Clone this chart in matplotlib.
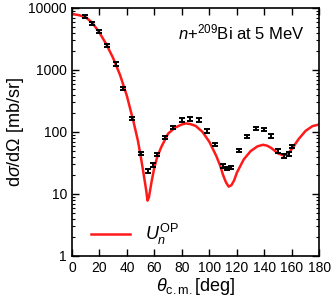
import matplotlib
matplotlib.use('Agg')
from matplotlib import pyplot as plt
from matplotlib.ticker import LogLocator, NullFormatter, FixedLocator

plt.rcParams['font.family'] = ['Liberation Sans', 'DejaVu Sans']
plt.rcParams['mathtext.fontset'] = 'custom'
plt.rcParams['mathtext.rm'] = 'Liberation Sans'
plt.rcParams['mathtext.it'] = 'Liberation Sans:italic'

exp_theta = [9.2, 14.5, 19.4, 25.4, 31.7, 37.5, 43.6, 49.9, 55.7, 58.9,
             62.0, 67.8, 73.6, 79.9, 86.0, 92.1, 98.1, 104.2, 109.7, 112.9,
             115.8, 121.6, 127.7, 133.7, 140.0, 145.1, 149.7, 154.1, 157.7, 160.1]
exp_xs = [7240, 5660, 4200, 2470, 1250, 506, 164, 45, 23.5, 29.4,
          43.6, 81, 119, 156, 162, 156, 104, 62, 28.3, 26,
          26.5, 50.6, 84, 113, 109, 86, 49.4, 41, 44, 58]
exp_err = [v * 0.06 for v in exp_xs]

# optical potential curve
op_theta = [0, 5, 10, 15, 20, 25, 30, 35, 40, 45, 48, 50, 52, 54, 55, 56, 58, 60,
            62, 65, 70, 75, 80, 83, 86, 90, 95, 100, 105, 108, 110, 112, 114, 116,
            118, 120, 125, 130, 135, 139, 142, 145, 150, 154, 157, 160, 165, 170,
            175, 180]
op_xs = [8000, 7650, 7100, 5700, 4000, 2600, 1550, 830, 380, 140, 72, 41, 22, 11.5,
         7.8, 8.8, 16, 27, 39, 57, 94, 117, 132, 137, 134, 125, 100, 69, 41, 28,
         20, 15.5, 13.1, 13.8, 16.5, 22, 36, 49, 58.5, 62, 60, 55, 45, 41.5, 44,
         53, 77, 104, 124, 132]

fig = plt.figure(figsize=(3.33, 3.05), dpi=100)
ax = fig.add_axes([0.216, 0.161, 0.743, 0.813])

ax.plot(op_theta, op_xs, color='#ff1a1a', lw=1.8, label=r'$U_n^{\mathrm{OP}}$')
ax.errorbar(exp_theta, exp_xs, yerr=exp_err, fmt='none', ecolor='black',
            elinewidth=1.4, capsize=2.2, capthick=1.4)

ax.set_yscale('log')
ax.set_xlim(0, 180)
ax.set_ylim(1, 10000)
ax.xaxis.set_major_locator(FixedLocator(range(0, 181, 20)))
ax.yaxis.set_major_locator(FixedLocator([1, 10, 100, 1000, 10000]))
ax.set_yticklabels(['1', '10', '100', '1000', '10000'])
ax.yaxis.set_minor_locator(LogLocator(base=10, subs=range(2, 10)))
ax.yaxis.set_minor_formatter(NullFormatter())
ax.tick_params(which='both', direction='in', top=True, right=True, labelsize=10)
ax.tick_params(which='major', length=5, width=1)
ax.tick_params(which='minor', length=2.5, width=0.8)
for s in ax.spines.values():
    s.set_linewidth(1.2)

ax.set_xlabel(r'$\theta_{\mathrm{c.m.}}$[deg]', fontsize=13, labelpad=1)
ax.set_ylabel(r'd$\sigma$/d$\Omega$ [mb/sr]', fontsize=13, labelpad=2)
ax.text(0.94, 0.90, r'$n$+$^{209}$Bi at 5 MeV', transform=ax.transAxes,
        ha='right', va='center', fontsize=12)
ax.legend(loc='lower left', frameon=False, fontsize=13, handlelength=2.2,
          bbox_to_anchor=(0.01, -0.03))

fig.savefig('out.png', dpi=100)
